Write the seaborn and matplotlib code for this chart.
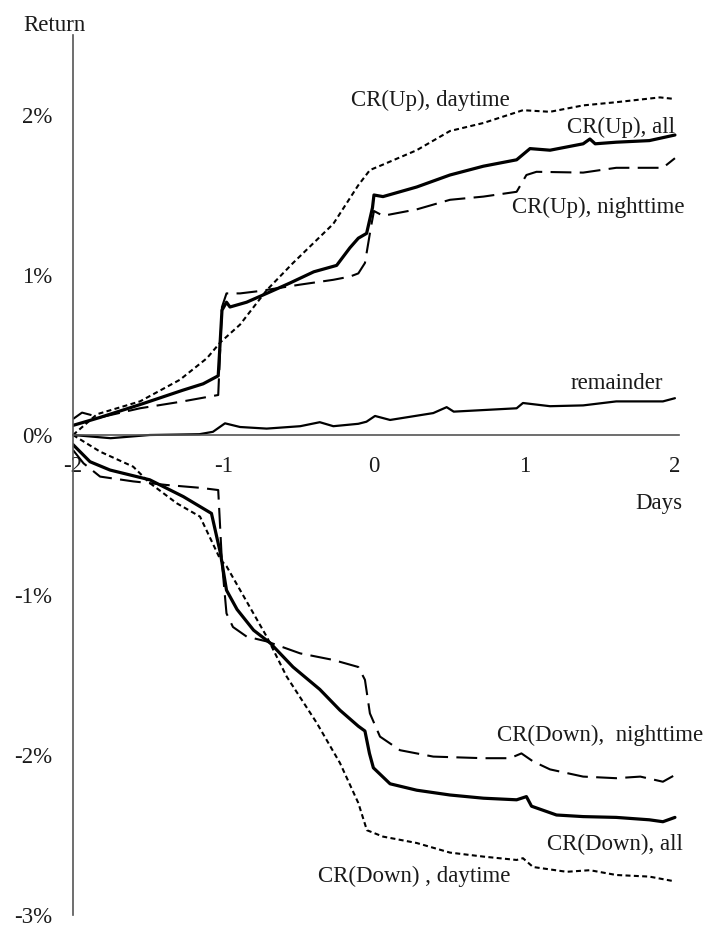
import numpy as np
import pandas as pd
import seaborn as sns
import matplotlib.pyplot as plt

# cumulative returns (in %) around the event day
up_all_x = [-2.0, -1.82, -1.555, -1.27, -1.135, -1.035, -1.01, -0.98, -0.957, -0.846, -0.713, -0.558, -0.40, -0.248,
            -0.16, -0.104, -0.049, -0.01, 0.0, 0.06, 0.284, 0.505, 0.727, 0.948, 1.037, 1.17, 1.39, 1.435, 1.47, 1.61, 1.83, 2.0]
up_all_y = [0.06, 0.11, 0.19, 0.28, 0.32, 0.37, 0.78, 0.83, 0.80, 0.83, 0.885, 0.95, 1.02, 1.06,
            1.17, 1.23, 1.26, 1.42, 1.50, 1.49, 1.55, 1.625, 1.68, 1.72, 1.79, 1.78, 1.82, 1.85, 1.82, 1.83, 1.84, 1.875]

up_day_x = [-2.0, -1.84, -1.555, -1.29, -1.11, -1.02, -0.89, -0.713, -0.538, -0.27, -0.105, -0.027, 0.06, 0.284,
            0.505, 0.727, 0.99, 1.17, 1.39, 1.61, 1.90, 2.0]
up_day_y = [0.0, 0.13, 0.21, 0.345, 0.48, 0.58, 0.69, 0.905, 1.075, 1.32, 1.56, 1.656, 1.69, 1.78,
            1.90, 1.95, 2.03, 2.02, 2.06, 2.08, 2.11, 2.10]

up_night_x = [-2.0, -1.94, -1.82, -1.555, -1.27, -1.035, -1.01, -0.98, -0.89, -0.758, -0.49, -0.27, -0.16, -0.104,
              -0.06, -0.02, 0.0, 0.06, 0.284, 0.505, 0.727, 0.948, 1.013, 1.08, 1.39, 1.61, 1.92, 2.0]
up_night_y = [0.10, 0.14, 0.11, 0.167, 0.21, 0.25, 0.80, 0.885, 0.885, 0.90, 0.94, 0.97, 0.99, 1.01,
              1.075, 1.30, 1.40, 1.37, 1.41, 1.47, 1.49, 1.52, 1.625, 1.645, 1.64, 1.67, 1.67, 1.73]

rem_x = [-2.0, -1.75, -1.49, -1.16, -1.07, -0.99, -0.89, -0.713, -0.49, -0.36, -0.27, -0.104, -0.05, 0.007,
         0.107, 0.394, 0.483, 0.53, 0.948, 0.99, 1.17, 1.39, 1.61, 1.92, 2.0]
rem_y = [0.0, -0.02, 0.0, 0.005, 0.02, 0.073, 0.05, 0.04, 0.055, 0.08, 0.055, 0.07, 0.083, 0.119,
         0.094, 0.137, 0.174, 0.146, 0.167, 0.20, 0.18, 0.185, 0.21, 0.21, 0.23]

down_all_x = [-2.0, -1.887, -1.754, -1.49, -1.267, -1.08, -1.02, -0.98, -0.91, -0.80, -0.69, -0.538, -0.36, -0.226,
              -0.104, -0.06, -0.03, -0.004, 0.107, 0.284, 0.505, 0.727, 0.948, 1.013, 1.047, 1.213, 1.39, 1.61,
              1.83, 1.92, 2.0]
down_all_y = [-0.06, -0.167, -0.219, -0.28, -0.385, -0.49, -0.74, -0.97, -1.09, -1.22, -1.30, -1.45, -1.59, -1.72,
              -1.82, -1.85, -1.99, -2.08, -2.18, -2.22, -2.25, -2.27, -2.28, -2.26, -2.32, -2.375, -2.385, -2.39,
              -2.405, -2.417, -2.39]

down_day_x = [-2.0, -1.82, -1.60, -1.49, -1.31, -1.156, -1.02, -0.98, -0.713, -0.58, -0.38, -0.226, -0.104, -0.047,
              0.06, 0.284, 0.505, 0.727, 0.948, 0.99, 1.057, 1.28, 1.435, 1.61, 1.83, 2.0]
down_day_y = [0.0, -0.104, -0.198, -0.30, -0.427, -0.51, -0.78, -0.82, -1.26, -1.51, -1.80, -2.05, -2.30, -2.47,
              -2.51, -2.55, -2.61, -2.635, -2.656, -2.645, -2.70, -2.73, -2.72, -2.75, -2.76, -2.79]

down_night_x = [-2.0, -1.93, -1.82, -1.60, -1.377, -1.156, -1.035, -1.01, -0.98, -0.937, -0.846, -0.713, -0.49,
                -0.27, -0.104, -0.06, -0.027, 0.04, 0.173, 0.394, 0.727, 0.904, 0.98, 1.057, 1.17, 1.39, 1.61,
                1.77, 1.92, 2.0]
down_night_y = [-0.094, -0.177, -0.26, -0.29, -0.3125, -0.33, -0.344, -0.80, -1.115, -1.20, -1.26, -1.29, -1.365,
                -1.406, -1.45, -1.53, -1.74, -1.885, -1.97, -2.01, -2.02, -2.02, -1.99, -2.04, -2.09, -2.135, -2.145,
                -2.135, -2.167, -2.125]

y_ticks = [-3, -2, -1, 0, 1, 2]
y_labels = ['-3%', '-2%', '-1%', '0%', '1%', '2%']
x_ticks = [-2, -1.5, -1, -0.5, 0, 0.5, 1, 1.5, 2]
x_labels = ['-2', '', '-1', '', '0', '', '1', '', '2']

sns.set_style("white")
plt.rcParams['font.family'] = ['Liberation Serif', 'DejaVu Serif']
plt.rcParams['font.size'] = 16.5

fig = plt.figure(figsize=(7.11, 9.27), dpi=100)
ax = fig.add_axes([73 / 711, 12 / 927, 606 / 711, 880 / 927])

short = (0, (2.4, 1.6))
long_ = (0, (10, 4))
series = [
    (up_all_x, up_all_y, '-', 2.3),
    (up_day_x, up_day_y, short, 1.5),
    (up_night_x, up_night_y, long_, 1.5),
    (rem_x, rem_y, '-', 1.6),
    (down_all_x, down_all_y, '-', 2.3),
    (down_day_x, down_day_y, short, 1.5),
    (down_night_x, down_night_y, long_, 1.5),
]
for xs, ys, ls, lw in series:
    sns.lineplot(x=xs, y=ys, ax=ax, color='black', linestyle=ls, linewidth=lw, sort=False)

ax.set_xlim(-2, 2.027)
ax.set_ylim(-3, 2.5)

for side in ['top', 'right']:
    ax.spines[side].set_visible(False)
ax.spines['bottom'].set_position(('data', 0))
for side in ['left', 'bottom']:
    ax.spines[side].set_color('#555555')
    ax.spines[side].set_linewidth(1.2)

ax.set_yticks(y_ticks)
ax.set_yticklabels(y_labels)
ax.set_xticks(x_ticks)
ax.set_xticklabels(x_labels)
ax.tick_params(axis='y', direction='out', length=6, width=1.2, color='#555555', pad=9, labelcolor='#1a1a1a')
ax.tick_params(axis='x', direction='out', length=7, width=1.2, color='#555555', pad=8, labelcolor='#1a1a1a')
ax.set_xlabel('')
ax.set_ylabel('')

txt = dict(color='#1a1a1a', fontsize=16.5)
ax.text(-2.33, 2.56, 'Return', ha='left', va='center', **txt)
ax.text(2.05, -0.43, 'Days', ha='right', va='center', **txt)
ax.text(0.904, 2.09, 'CR(Up), daytime', ha='right', va='center', **txt)
ax.text(2.0, 1.92, 'CR(Up), all', ha='right', va='center', **txt)
ax.text(2.066, 1.42, 'CR(Up), nighttime', ha='right', va='center', **txt)
ax.text(1.92, 0.325, 'remainder', ha='right', va='center', **txt)
ax.text(2.19, -1.875, 'CR(Down),  nighttime', ha='right', va='center', **txt)
ax.text(2.05, -2.56, 'CR(Down), all', ha='right', va='center', **txt)
ax.text(0.904, -2.76, 'CR(Down) , daytime', ha='right', va='center', **txt)

plt.savefig('out.png', dpi=100)
